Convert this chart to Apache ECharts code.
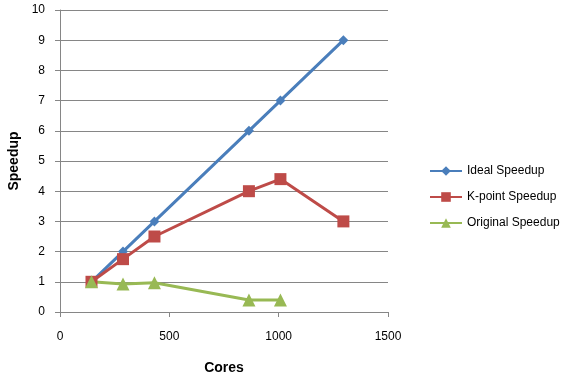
<!DOCTYPE html>
<html><head><meta charset="utf-8">
<script src="https://cdn.jsdelivr.net/npm/echarts@6/dist/echarts.min.js"></script>
<style>html,body{margin:0;padding:0;background:#fff}#c{width:574px;height:378px}</style>
</head><body><div id="c"></div>
<script>
const cores = [144, 288, 432, 864, 1008, 1296];
const idealSpeedup = [1, 2, 3, 6, 7, 9];
const kpointSpeedup = [1, 1.75, 2.5, 4.0, 4.4, 3.0];
const originalSpeedup = [1, 0.93, 0.97, 0.4, 0.4];
const xTicks = [0, 500, 1000, 1500];
const yTicks = [0,1,2,3,4,5,6,7,8,9,10];

const font = '"Liberation Sans", Arial, sans-serif';
const pair = (xs, ys) => ys.map((y, i) => [xs[i], y]);

const chart = echarts.init(document.getElementById('c'), null, {renderer: 'canvas'});
chart.setOption({
  animation: false,
  backgroundColor: '#fff',
  grid: {left: 60, right: 186, top: 10, bottom: 66, containLabel: false, outerBoundsMode: 'none'},
  xAxis: {
    type: 'value', min: xTicks[0], max: xTicks[xTicks.length-1], interval: 500,
    name: 'Cores', nameLocation: 'middle', nameGap: 49,
    nameTextStyle: {fontFamily: font, fontWeight: 'bold', fontSize: 14, color: '#000'},
    axisLine: {show: true, lineStyle: {color: '#868686'}},
    axisTick: {show: true, length: 5, lineStyle: {color: '#868686'}},
    axisLabel: {fontFamily: font, fontSize: 12, color: '#000', margin: 19,
                formatter: v => String(v)},
    splitLine: {show: false}
  },
  yAxis: {
    type: 'value', min: yTicks[0], max: yTicks[yTicks.length-1], interval: 1,
    name: 'Speedup', nameLocation: 'middle', nameGap: 38, nameRotate: 90,
    nameTextStyle: {fontFamily: font, fontWeight: 'bold', fontSize: 14, color: '#000'},
    axisLine: {show: true, lineStyle: {color: '#868686'}},
    axisTick: {show: true, length: 5, lineStyle: {color: '#868686'}},
    axisLabel: {fontFamily: font, fontSize: 12, color: '#000', margin: 15},
    splitLine: {show: true, lineStyle: {color: '#868686', width: 1}}
  },
  legend: {
    orient: 'vertical', left: 424, top: 160, itemGap: 14, itemWidth: 32, itemHeight: 12,
    textStyle: {fontFamily: font, fontSize: 12, color: '#000'},
    data: ['Ideal Speedup', 'K-point Speedup', 'Original Speedup']
  },
  series: [
    {name: 'Ideal Speedup', type: 'line', data: pair(cores, idealSpeedup),
     symbol: 'diamond', symbolSize: 10, color: '#4a7ebb',
     lineStyle: {width: 3, color: '#4a7ebb'}, itemStyle: {color: '#4a7ebb'}},
    {name: 'K-point Speedup', type: 'line', data: pair(cores, kpointSpeedup),
     symbol: 'rect', symbolSize: 12, color: '#be4b48',
     lineStyle: {width: 3, color: '#be4b48'}, itemStyle: {color: '#be4b48'}},
    {name: 'Original Speedup', type: 'line', data: pair(cores, originalSpeedup),
     symbol: 'triangle', symbolSize: 13, color: '#98b954',
     lineStyle: {width: 3, color: '#98b954'}, itemStyle: {color: '#98b954'}}
  ]
});
</script></body></html>
